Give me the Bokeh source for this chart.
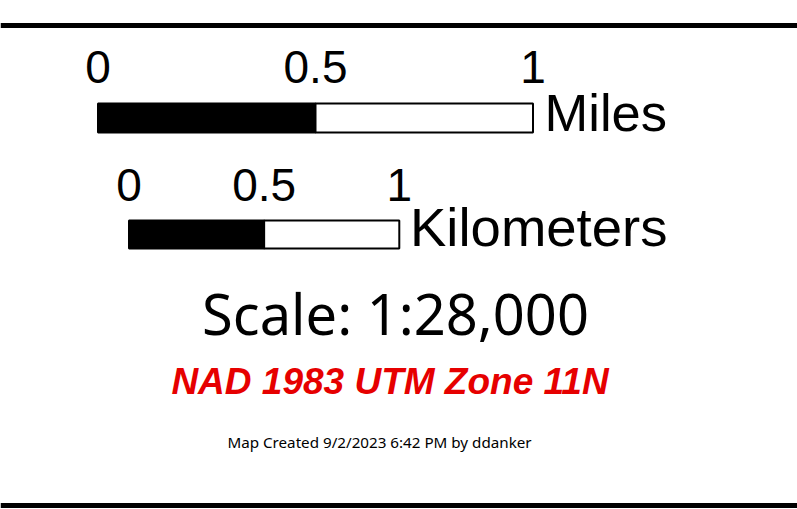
from bokeh.plotting import figure
from bokeh.models import Range1d
from bokeh.core.properties import value
from bokeh.embed import file_html
from bokeh.resources import INLINE

# ---- data ----
mile_ticks = [0, 0.5, 1]
mile_labels = ["0", "0.5", "1"]
km_ticks = [0, 0.5, 1]
km_labels = ["0", "0.5", "1"]
mile_segments_start = [0, 0.5]
mile_segments_end = [0.5, 1]
km_segments_start = [0, 0.5]
km_segments_end = [0.5, 1]
segment_fill = ["black", "white"]
miles_per_km = 0.621371
unit_miles = "Miles"
unit_km = "Kilometers"
scale_text = "Scale: 1:28,000"
projection_text = "NAD 1983 UTM Zone 11N"
credit_text = "Map Created 9/2/2023 6:42 PM by ddanker"

# ---- layout (pixel space) ----
W, H = 797, 509
p = figure(width=W, height=H, x_range=Range1d(0, W), y_range=Range1d(H, 0),
           output_backend="svg", toolbar_location=None, min_border=0,
           x_axis_location=None, y_axis_location=None)
p.grid.visible = False
p.outline_line_color = None
p.background_fill_color = "white"
p.border_fill_color = "white"

px_per_mile = 435.0
px_per_km = px_per_mile * miles_per_km
mi_x0, km_x0 = 97.5, 128.5

num_font = value("Liberation Sans")

# top and bottom rules
p.segment(x0=[0, 0], x1=[W, W], y0=[25, 505], y1=[25, 505],
          line_color="black", line_width=5)

# Miles bar
ml = [mi_x0 + v * px_per_mile for v in mile_segments_start]
mr = [mi_x0 + v * px_per_mile for v in mile_segments_end]
p.quad(left=ml, right=mr, top=103, bottom=132, fill_color=segment_fill,
       line_color="black", line_width=2)
p.text(x=[mi_x0 + v * px_per_mile for v in mile_ticks], y=[83.5 - 17] * 3, text=mile_labels,
       text_font=num_font, text_font_size="46px", text_align="center",
       text_baseline="alphabetic", text_color="black")
p.text(x=[544], y=[132 - 20], text=[unit_miles], text_font=num_font, text_font_size="52.5px",
       text_align="left", text_baseline="alphabetic", text_color="black")

# Kilometers bar
kl = [km_x0 + v * px_per_km for v in km_segments_start]
kr = [km_x0 + v * px_per_km for v in km_segments_end]
p.quad(left=kl, right=kr, top=220, bottom=248, fill_color=segment_fill,
       line_color="black", line_width=2)
p.text(x=[km_x0 + v * px_per_km for v in km_ticks], y=[201.5 - 17] * 3, text=km_labels,
       text_font=num_font, text_font_size="46px", text_align="center",
       text_baseline="alphabetic", text_color="black")
p.text(x=[409.5], y=[247.5 - 21], text=[unit_km], text_font=num_font, text_font_size="54.5px",
       text_align="left", text_baseline="alphabetic", text_color="black")

# Scale text
p.text(x=[395], y=[332.5 - 20], text=[scale_text], text_font=value("Noto Sans"),
       text_font_size="56px", text_align="center", text_baseline="alphabetic",
       text_color="black")

# Projection
p.text(x=[389.5], y=[393 - 12], text=[projection_text], text_font=value("Liberation Sans"),
       text_font_size="37px", text_font_style="bold italic", text_align="center",
       text_baseline="alphabetic", text_color="#e60000")

# Credit
p.text(x=[379], y=[446.5 - 5], text=[credit_text], text_font=value("Noto Sans"),
       text_font_size="15.2px", text_align="center", text_baseline="alphabetic",
       text_color="black")

open("out.html", "w").write(file_html(p, INLINE))
